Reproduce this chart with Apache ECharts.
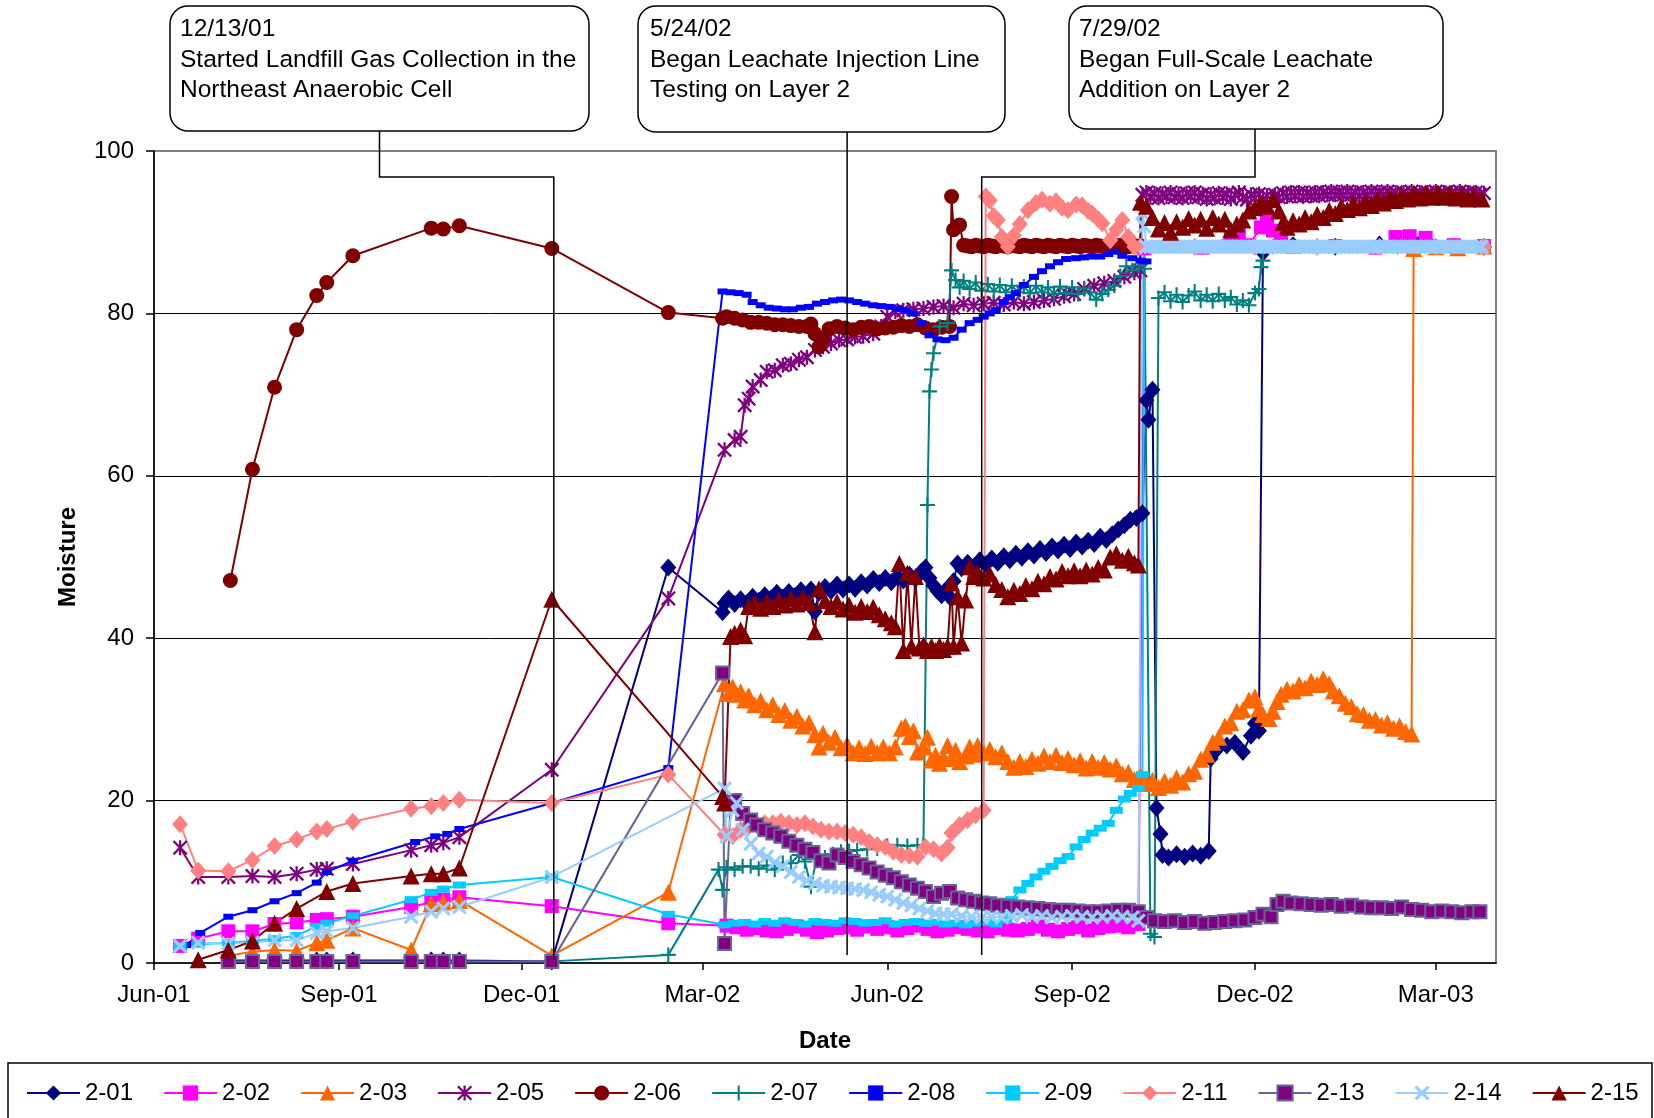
<!DOCTYPE html>
<html>
<head>
<meta charset="utf-8">
<title>Moisture 2-xx</title>
<script src="https://cdn.jsdelivr.net/npm/echarts@6/dist/echarts.min.js"></script>
<style>
  html, body { margin: 0; padding: 0; background: #fff; }
  #main { width: 1654px; height: 1118px; }
</style>
</head>
<body>
<div id="main"></div>
<script>
// 字体
const FONT = '"Liberation Sans", Arial, sans-serif'

// x轴刻度
const xTickDates = ['2001-06-01', '2001-09-01', '2001-12-01', '2002-03-01', '2002-06-01', '2002-09-01', '2002-12-01', '2003-03-01']
const xTickLabels = ['Jun-01', 'Sep-01', 'Dec-01', 'Mar-02', 'Jun-02', 'Sep-02', 'Dec-02', 'Mar-03']

// 注释框
const noteTexts = [
  '12/13/01\nStarted Landfill Gas Collection in the\nNortheast Anaerobic Cell',
  '5/24/02\nBegan Leachate Injection Line\nTesting on Layer 2',
  '7/29/02\nBegan Full-Scale Leachate\nAddition on Layer 2'
]
// 竖线所在日期 (按图上位置读出)
const noteDates = ['2001-12-17', '2002-05-12', '2002-07-18']

const seriesNames = ['2-01', '2-02', '2-03', '2-05', '2-06', '2-07', '2-08', '2-09', '2-11', '2-13', '2-14', '2-15']

const s201 = [
  ['2001-07-08',0.3],['2001-07-20',0.3],['2001-07-31',0.3],['2001-08-11',0.3],['2001-08-21',0.3],['2001-08-26',0.3],['2001-09-08',0.3],['2001-10-07',0.3],['2001-10-17',0.3],['2001-10-23',0.3],['2001-10-31',0.3],['2001-12-16',0.2],
  ['2002-02-12',48.7],['2002-03-11',43.2],['2002-03-12',44.3],['2002-03-14',44.9],['2002-03-17',44.2],['2002-03-20',44.8],['2002-03-23',44.3],['2002-03-26',45.1],['2002-03-29',44.6],['2002-04-01',45.3],['2002-04-04',44.9],['2002-04-07',45.6],['2002-04-10',45.0],['2002-04-13',45.7],
  ['2002-04-16',45.2],['2002-04-19',45.9],['2002-04-22',45.4],['2002-04-24',46.0],['2002-04-26',43.3],['2002-04-28',45.6],['2002-05-01',46.3],['2002-05-04',45.8],['2002-05-07',46.6],['2002-05-10',46.0],['2002-05-13',46.6],['2002-05-16',46.1],['2002-05-19',46.9],['2002-05-22',46.5],
  ['2002-05-25',47.3],['2002-05-28',46.8],['2002-05-31',47.4],['2002-06-03',46.9],['2002-06-06',47.6],['2002-06-09',47.1],['2002-06-12',47.8],['2002-06-15',47.3],['2002-06-18',48.2],['2002-06-20',48.7],['2002-06-22',47.4],['2002-06-24',46.5],['2002-06-26',45.8],['2002-06-28',45.3],
  ['2002-06-30',45.9],['2002-07-02',45.1],['2002-07-04',47.0],['2002-07-06',49.2],['2002-07-08',48.6],['2002-07-11',49.3],['2002-07-14',48.8],['2002-07-17',49.6],['2002-07-20',49.1],['2002-07-23',49.8],['2002-07-26',49.3],['2002-07-29',50.1],['2002-08-01',49.6],['2002-08-04',50.4],
  ['2002-08-07',49.9],['2002-08-10',50.7],['2002-08-13',50.2],['2002-08-16',51.0],['2002-08-19',50.5],['2002-08-22',51.3],['2002-08-25',50.8],['2002-08-28',51.5],['2002-08-31',51.0],['2002-09-03',51.8],['2002-09-06',51.3],['2002-09-09',52.0],['2002-09-12',51.6],['2002-09-15',52.5],
  ['2002-09-18',52.1],['2002-09-21',52.8],['2002-09-24',53.4],['2002-09-27',53.9],['2002-09-30',54.6],['2002-10-03',54.8],['2002-10-06',55.4],
  ['2002-10-08',69.3],['2002-10-09',66.9],['2002-10-11',70.6],['2002-10-13',19.1],['2002-10-15',15.9],['2002-10-16',13.3],['2002-10-19',13.0],['2002-10-23',13.4],['2002-10-27',13.1],['2002-10-31',13.5],['2002-11-04',13.2],['2002-11-08',13.8],
  ['2002-11-09',25.2],['2002-11-12',26.3],['2002-11-17',26.8],['2002-11-21',27.1],['2002-11-25',26.0],['2002-11-29',28.0],['2002-12-01',29.5],['2002-12-03',28.6],['2002-12-05',87.5],['2002-12-20',88.4],['2003-01-10',88.2],['2003-02-01',88.5],['2003-02-20',88.3],['2003-03-10',88.2],['2003-03-25',88.2]
]

const s202 = [
  ['2001-06-14',2.1],['2001-06-23',3.0],['2001-07-08',3.9],['2001-07-20',3.9],['2001-07-31',4.8],['2001-08-11',5.0],['2001-08-21',5.3],['2001-08-26',5.4],['2001-09-08',5.7],['2001-10-07',6.9],['2001-10-17',7.5],['2001-10-23',7.8],['2001-10-31',8.1],['2001-12-16',7.0],['2002-02-12',4.9],
  ['2002-03-13',4.6],['2002-03-18',4.4],['2002-03-23',4.1],['2002-03-28',4.3],['2002-04-02',4.0],['2002-04-07',3.9],['2002-04-12',4.2],['2002-04-17',4.5],['2002-04-22',4.1],['2002-04-27',3.8],['2002-05-02',4.0],['2002-05-07',4.3],['2002-05-12',4.4],['2002-05-17',4.1],
  ['2002-05-22',4.5],['2002-05-27',4.2],['2002-06-01',4.4],['2002-06-06',4.0],['2002-06-11',4.3],['2002-06-16',4.6],['2002-06-21',4.2],['2002-06-26',3.9],['2002-07-01',4.1],['2002-07-06',4.4],['2002-07-11',4.2],['2002-07-16',4.0],['2002-07-21',3.9],['2002-07-26',4.3],
  ['2002-07-31',4.1],['2002-08-05',4.0],['2002-08-10',4.2],['2002-08-15',4.5],['2002-08-20',4.1],['2002-08-25',3.9],['2002-08-30',4.2],['2002-09-04',4.4],['2002-09-09',4.0],['2002-09-14',4.3],['2002-09-19',4.5],['2002-09-24',4.6],['2002-09-29',4.4],['2002-10-04',4.8],
  ['2002-10-07',88.0],['2002-10-20',88.3],['2002-11-05',88.1],['2002-11-19',89.4],['2002-11-23',89.8],['2002-11-28',88.4],['2002-12-04',90.6],['2002-12-07',91.9],['2002-12-10',90.2],['2002-12-14',89.4],['2002-12-20',88.2],['2003-01-10',88.3],['2003-01-30',88.1],['2003-02-09',89.4],['2003-02-16',89.5],['2003-02-24',89.3],['2003-03-10',88.4],['2003-03-25',88.3]
]

const s203 = [
  ['2001-07-08',0.9],['2001-07-20',1.4],['2001-07-31',1.6],['2001-08-11',1.5],['2001-08-21',2.5],['2001-08-26',2.8],['2001-09-08',4.3],['2001-10-07',1.6],['2001-10-17',7.3],['2001-10-23',7.5],['2001-10-31',7.7],['2001-12-16',0.9],['2002-02-12',8.7],
  ['2002-03-12',34.4],['2002-03-14',33.2],['2002-03-16',34.0],['2002-03-18',33.1],['2002-03-20',33.4],['2002-03-22',32.4],['2002-03-24',32.9],['2002-03-27',31.8],['2002-03-30',32.3],['2002-04-02',31.2],['2002-04-05',31.8],['2002-04-08',30.6],['2002-04-11',31.1],['2002-04-14',29.9],
  ['2002-04-17',30.4],['2002-04-20',29.2],['2002-04-23',29.6],['2002-04-26',28.1],['2002-04-28',26.6],['2002-04-30',28.3],['2002-05-03',27.2],['2002-05-06',27.8],['2002-05-09',26.5],['2002-05-12',26.9],['2002-05-15',25.9],['2002-05-18',26.5],['2002-05-21',25.8],['2002-05-24',26.7],
  ['2002-05-27',25.9],['2002-05-30',26.6],['2002-06-02',25.9],['2002-06-05',26.6],['2002-06-08',28.9],['2002-06-10',29.2],['2002-06-12',27.9],['2002-06-14',28.6],['2002-06-16',26.0],['2002-06-19',26.6],['2002-06-21',27.8],['2002-06-23',25.0],['2002-06-25',25.6],['2002-06-27',24.6],
  ['2002-06-29',25.3],['2002-07-01',26.8],['2002-07-03',25.2],['2002-07-05',26.2],['2002-07-07',24.8],['2002-07-10',25.5],['2002-07-12',26.6],['2002-07-14',25.7],['2002-07-16',26.8],['2002-07-19',25.9],['2002-07-22',26.3],['2002-07-25',25.4],['2002-07-28',25.9],['2002-07-31',24.8],
  ['2002-08-03',24.1],['2002-08-06',24.8],['2002-08-09',24.2],['2002-08-12',25.1],['2002-08-15',24.6],['2002-08-18',25.5],['2002-08-21',24.8],['2002-08-24',25.6],['2002-08-27',24.7],['2002-08-30',25.2],['2002-09-02',24.4],['2002-09-05',24.9],['2002-09-08',24.0],['2002-09-11',24.8],
  ['2002-09-14',24.1],['2002-09-17',24.7],['2002-09-20',23.9],['2002-09-23',24.3],['2002-09-26',23.3],['2002-09-29',23.5],['2002-10-02',22.6],['2002-10-05',23.0],['2002-10-08',22.1],['2002-10-11',22.5],['2002-10-14',21.6],['2002-10-17',22.4],['2002-10-20',21.9],['2002-10-23',22.8],
  ['2002-10-26',22.3],['2002-10-29',23.3],['2002-11-01',23.6],['2002-11-04',25.1],['2002-11-07',25.7],['2002-11-10',27.2],['2002-11-13',27.8],['2002-11-16',29.2],['2002-11-19',29.6],['2002-11-22',31.0],['2002-11-25',31.2],['2002-11-28',32.4],['2002-12-01',32.8],['2002-12-03',31.3],
  ['2002-12-05',30.6],['2002-12-08',30.1],['2002-12-10',31.0],['2002-12-12',32.2],['2002-12-14',33.1],['2002-12-17',33.7],['2002-12-20',33.5],['2002-12-23',34.3],['2002-12-26',33.9],['2002-12-29',34.7],['2003-01-01',34.3],['2003-01-04',35.0],['2003-01-07',34.4],['2003-01-09',33.5],
  ['2003-01-12',32.9],['2003-01-15',32.0],['2003-01-18',31.6],['2003-01-21',30.7],['2003-01-24',30.6],['2003-01-27',29.9],['2003-01-30',30.0],['2003-02-02',29.3],['2003-02-05',29.6],['2003-02-08',28.9],['2003-02-11',29.2],['2003-02-14',28.5],['2003-02-17',28.2],
  ['2003-02-18',88.0],['2003-03-01',88.2],['2003-03-12',88.1],['2003-03-25',88.3]
]

const s205 = [
  ['2001-06-14',14.2],['2001-06-23',10.6],['2001-07-08',10.6],['2001-07-20',10.7],['2001-07-31',10.6],['2001-08-11',11.0],['2001-08-21',11.5],['2001-08-26',11.6],['2001-09-08',12.2],['2001-10-07',13.9],['2001-10-17',14.5],['2001-10-23',14.8],['2001-10-31',15.5],['2001-12-16',23.8],['2002-02-12',44.9],
  ['2002-03-12',63.2],['2002-03-17',64.4],['2002-03-20',64.8],['2002-03-22',68.7],['2002-03-24',69.5],['2002-03-26',71.0],['2002-03-30',71.8],['2002-04-02',72.8],['2002-04-06',73.0],['2002-04-10',73.6],['2002-04-14',73.8],['2002-04-18',74.3],['2002-04-22',74.6],['2002-04-26',75.5],
  ['2002-04-30',75.9],['2002-05-04',76.3],['2002-05-08',76.7],['2002-05-12',76.8],['2002-05-16',77.1],['2002-05-20',77.2],['2002-05-25',77.5],['2002-05-29',78.4],['2002-06-01',79.6],['2002-06-05',80.2],['2002-06-09',80.4],['2002-06-14',80.5],['2002-06-19',80.6],['2002-06-24',80.8],
  ['2002-06-29',80.9],['2002-07-04',80.7],['2002-07-09',81.2],['2002-07-14',81.0],['2002-07-19',81.2],['2002-07-24',81.3],['2002-07-29',81.1],['2002-08-03',81.4],['2002-08-08',81.2],['2002-08-13',81.4],['2002-08-18',81.6],['2002-08-23',81.8],['2002-08-28',82.1],['2002-09-02',82.4],
  ['2002-09-07',83.0],['2002-09-12',83.4],['2002-09-17',83.7],['2002-09-22',84.0],['2002-09-27',84.5],['2002-10-02',85.0],['2002-10-05',85.3],
  ['2002-10-06',94.6],['2002-10-08',94.9],['2002-10-10',94.3],['2002-10-12',94.8],['2002-10-14',94.2],['2002-10-16',94.7],['2002-10-18',94.4],['2002-10-20',94.9],['2002-10-22',94.3],['2002-10-24',94.7],['2002-10-26',94.2],['2002-10-28',94.8],['2002-10-30',94.4],
  ['2002-11-01',94.9],['2002-11-03',94.3],['2002-11-05',94.7],['2002-11-07',94.1],['2002-11-09',94.6],['2002-11-11',94.2],['2002-11-13',94.8],['2002-11-15',94.3],['2002-11-17',94.7],['2002-11-19',94.1],['2002-11-21',94.6],['2002-11-23',94.9],['2002-11-25',94.3],['2002-11-27',94.0],['2002-11-29',94.6],
  ['2002-12-01',94.2],['2002-12-03',94.7],['2002-12-05',94.1],['2002-12-07',94.5],['2002-12-09',94.0],['2002-12-11',94.6],['2002-12-13',94.3],['2002-12-15',94.8],['2002-12-17',94.4],['2002-12-19',94.9],['2002-12-21',94.5],['2002-12-23',94.9],['2002-12-25',94.4],['2002-12-27',94.8],['2002-12-29',94.5],['2002-12-31',94.9],
  ['2003-01-02',94.5],['2003-01-04',94.9],['2003-01-06',94.6],['2003-01-08',95.0],['2003-01-10',94.6],['2003-01-12',94.9],['2003-01-14',94.6],['2003-01-16',95.0],['2003-01-18',94.6],['2003-01-20',94.9],['2003-01-22',94.5],['2003-01-24',94.9],['2003-01-26',94.6],['2003-01-28',95.0],['2003-01-30',94.6],
  ['2003-02-01',94.9],['2003-02-03',94.6],['2003-02-05',95.0],['2003-02-07',94.6],['2003-02-09',94.9],['2003-02-11',94.5],['2003-02-13',94.9],['2003-02-15',94.6],['2003-02-17',95.0],['2003-02-19',94.6],['2003-02-21',94.9],['2003-02-23',94.5],['2003-02-25',94.9],['2003-02-27',94.6],
  ['2003-03-01',95.0],['2003-03-03',94.6],['2003-03-05',94.9],['2003-03-07',94.5],['2003-03-09',94.9],['2003-03-11',94.6],['2003-03-13',95.0],['2003-03-15',94.6],['2003-03-17',94.9],['2003-03-19',94.5],['2003-03-21',94.9],['2003-03-23',94.6],['2003-03-25',94.8]
]

const s206 = [
  ['2001-07-09',47.1],['2001-07-20',60.8],['2001-07-31',70.9],['2001-08-11',78.0],['2001-08-21',82.2],['2001-08-26',83.8],['2001-09-08',87.1],['2001-10-17',90.5],['2001-10-23',90.4],['2001-10-31',90.8],['2001-12-16',88.0],['2002-02-12',80.1],
  ['2002-03-11',79.4],['2002-03-13',79.6],['2002-03-17',79.4],['2002-03-21',79.2],['2002-03-25',78.9],['2002-03-29',78.9],['2002-04-02',78.8],['2002-04-06',78.6],['2002-04-10',78.6],['2002-04-14',78.5],['2002-04-18',78.4],['2002-04-22',78.4],['2002-04-24',78.7],['2002-04-26',77.5],
  ['2002-04-28',75.9],['2002-04-30',76.8],['2002-05-03',78.1],['2002-05-07',78.4],['2002-05-11',78.2],['2002-05-15',78.0],['2002-05-19',78.3],['2002-05-23',78.4],['2002-05-27',78.1],['2002-05-31',78.2],['2002-06-04',78.3],['2002-06-08',78.5],['2002-06-12',78.4],['2002-06-16',78.6],
  ['2002-06-20',78.2],['2002-06-24',78.0],['2002-06-28',78.3],['2002-07-02',78.4],['2002-07-03',94.4],['2002-07-04',90.3],['2002-07-07',90.9],
  ['2002-07-09',88.4],['2002-07-11',88.3],['2002-07-13',88.2],['2002-07-15',88.4],['2002-07-17',88.3],['2002-07-19',88.2],['2002-07-21',88.4],['2002-07-23',88.3],['2002-07-25',88.2],['2002-07-27',88.4],['2002-07-29',88.3],['2002-07-31',88.2],
  ['2002-08-02',88.4],['2002-08-04',88.3],['2002-08-06',88.2],['2002-08-08',88.4],['2002-08-10',88.3],['2002-08-12',88.2],['2002-08-14',88.4],['2002-08-16',88.3],['2002-08-18',88.2],['2002-08-20',88.4],['2002-08-22',88.3],['2002-08-24',88.2],['2002-08-26',88.4],['2002-08-28',88.3],['2002-08-30',88.2],
  ['2002-09-01',88.4],['2002-09-03',88.3],['2002-09-05',88.2],['2002-09-07',88.4],['2002-09-09',88.3],['2002-09-11',88.2],['2002-09-13',88.4],['2002-09-15',88.3],['2002-09-17',88.2],['2002-09-19',88.4],['2002-09-21',88.3],['2002-09-23',88.2],['2002-09-25',88.4],['2002-09-27',88.3],['2002-09-29',88.2],
  ['2002-10-01',88.4],['2002-10-03',88.3],['2002-10-05',88.3]
]

const s207 = [
  ['2001-12-16',0.2],['2002-02-12',1.0],['2002-03-09',11.5],['2002-03-11',9.0],['2002-03-13',11.8],['2002-03-17',11.5],['2002-03-21',11.9],['2002-03-25',11.9],['2002-03-29',11.6],['2002-04-02',12.0],['2002-04-06',11.5],['2002-04-10',12.3],['2002-04-14',12.3],['2002-04-18',13.3],
  ['2002-04-21',12.5],['2002-04-24',9.4],['2002-04-27',13.1],['2002-05-01',13.0],['2002-05-05',13.4],['2002-05-09',13.7],['2002-05-13',13.8],['2002-05-17',13.9],['2002-05-22',14.0],['2002-05-27',14.1],['2002-06-01',14.4],['2002-06-06',14.5],['2002-06-11',14.4],['2002-06-16',14.5],
  ['2002-06-19',14.5],['2002-06-21',56.4],['2002-06-22',70.4],['2002-06-23',73.1],['2002-06-24',75.1],['2002-06-27',78.4],['2002-07-01',78.8],
  ['2002-07-03',85.3],['2002-07-05',84.1],['2002-07-07',83.2],['2002-07-09',84.0],['2002-07-12',83.0],['2002-07-15',83.8],['2002-07-18',82.8],['2002-07-21',83.6],['2002-07-24',82.7],['2002-07-27',83.5],['2002-07-30',82.6],['2002-08-02',83.4],['2002-08-05',82.6],['2002-08-08',83.3],
  ['2002-08-11',82.5],['2002-08-14',83.4],['2002-08-17',82.6],['2002-08-20',83.2],['2002-08-23',82.4],['2002-08-26',83.3],['2002-08-29',82.5],['2002-09-01',83.2],['2002-09-04',82.4],['2002-09-07',83.1],['2002-09-10',82.6],['2002-09-13',81.7],['2002-09-16',82.4],['2002-09-19',82.9],
  ['2002-09-22',83.4],['2002-09-25',84.6],['2002-09-28',85.8],['2002-10-01',85.3],['2002-10-04',85.9],['2002-10-07',85.5],['2002-10-10',3.6],['2002-10-12',3.2],
  ['2002-10-14',81.9],['2002-10-17',82.6],['2002-10-20',81.5],['2002-10-23',82.3],['2002-10-26',81.4],['2002-10-29',82.2],['2002-11-01',82.7],['2002-11-04',81.6],['2002-11-07',82.3],['2002-11-10',81.5],['2002-11-13',82.4],['2002-11-16',81.6],['2002-11-19',82.0],['2002-11-22',81.1],
  ['2002-11-25',81.6],['2002-11-28',81.0],['2002-12-01',82.5],['2002-12-03',83.0],['2002-12-04',85.7],['2002-12-05',86.5],['2002-12-10',88.2],['2003-01-10',88.2],['2003-02-10',88.2],['2003-03-25',88.2]
]

const s208 = [
  ['2001-06-17',2.2],['2001-06-24',3.7],['2001-07-08',5.7],['2001-07-20',6.5],['2001-07-31',7.6],['2001-08-11',8.6],['2001-08-21',9.9],['2001-08-26',11.2],['2001-09-08',12.6],['2001-10-09',14.9],['2001-10-19',15.6],['2001-10-25',15.9],['2001-10-31',16.5],['2001-12-16',19.7],['2002-02-12',24.0],
  ['2002-03-11',82.7],['2002-03-15',82.6],['2002-03-19',82.5],['2002-03-23',82.3],['2002-03-26',81.4],['2002-03-30',81.0],['2002-04-03',80.7],['2002-04-07',80.6],['2002-04-11',80.5],['2002-04-15',80.5],['2002-04-19',80.7],['2002-04-23',80.8],['2002-04-27',81.2],['2002-05-01',81.4],
  ['2002-05-05',81.6],['2002-05-09',81.7],['2002-05-13',81.6],['2002-05-17',81.4],['2002-05-21',81.2],['2002-05-25',81.0],['2002-05-29',80.9],['2002-06-02',80.8],['2002-06-06',80.6],['2002-06-10',80.4],['2002-06-14',80.0],['2002-06-18',78.8],['2002-06-22',77.3],['2002-06-26',76.8],
  ['2002-06-30',76.7],['2002-07-04',77.0],['2002-07-08',78.0],['2002-07-12',78.8],['2002-07-16',79.2],['2002-07-19',79.6],['2002-07-22',80.0],['2002-07-25',80.4],['2002-07-29',81.4],['2002-08-01',82.0],['2002-08-04',82.5],['2002-08-08',83.5],['2002-08-13',84.5],['2002-08-17',85.2],
  ['2002-08-21',85.8],['2002-08-25',86.3],['2002-08-29',86.7],['2002-09-03',86.8],['2002-09-07',86.9],['2002-09-11',87.0],['2002-09-15',87.0],['2002-09-19',87.3],['2002-09-22',87.6],['2002-09-26',87.1],['2002-10-01',86.8],['2002-10-05',86.5],['2002-10-08',86.4]
]

const s209 = [
  ['2001-06-14',2.1],['2001-06-23',2.3],['2001-07-08',2.5],['2001-07-20',2.7],['2001-07-31',3.0],['2001-08-11',3.4],['2001-08-21',4.5],['2001-08-26',4.9],['2001-09-08',5.8],['2001-10-07',7.8],['2001-10-17',8.7],['2001-10-23',9.1],['2001-10-31',9.6],['2001-12-16',10.6],['2002-02-12',6.0],
  ['2002-03-12',4.7],['2002-03-17',4.9],['2002-03-22',5.0],['2002-03-27',4.8],['2002-04-01',5.1],['2002-04-06',4.9],['2002-04-11',5.2],['2002-04-16',5.0],['2002-04-21',4.8],['2002-04-26',5.1],['2002-05-01',5.0],['2002-05-06',4.9],['2002-05-11',5.2],['2002-05-16',5.1],
  ['2002-05-21',4.9],['2002-05-26',5.0],['2002-05-31',5.2],['2002-06-05',4.8],['2002-06-10',5.0],['2002-06-15',5.1],['2002-06-20',4.9],['2002-06-25',5.0],['2002-06-30',4.8],['2002-07-05',4.9],['2002-07-10',4.7],['2002-07-15',4.9],['2002-07-20',5.0],['2002-07-25',4.8],['2002-07-30',5.3],
  ['2002-08-02',7.8],['2002-08-06',9.0],['2002-08-10',9.8],['2002-08-14',10.6],['2002-08-18',11.3],['2002-08-22',11.9],['2002-08-26',12.6],['2002-08-30',13.1],['2002-09-03',14.3],['2002-09-07',15.2],['2002-09-11',16.0],['2002-09-15',16.6],['2002-09-19',17.2],['2002-09-23',18.8],
  ['2002-09-27',20.2],['2002-09-30',20.9],['2002-10-04',21.5],['2002-10-06',23.2],['2002-10-07',88.0],['2002-11-01',88.2],['2002-12-01',88.2],['2003-01-01',88.2],['2003-02-01',88.2],['2003-03-01',88.2],['2003-03-25',88.2]
]

const s211 = [
  ['2001-06-14',17.1],['2001-06-23',11.4],['2001-07-08',11.3],['2001-07-20',12.7],['2001-07-31',14.4],['2001-08-11',15.2],['2001-08-21',16.2],['2001-08-26',16.5],['2001-09-08',17.4],['2001-10-07',19.0],['2001-10-17',19.3],['2001-10-23',19.7],['2001-10-31',20.1],['2001-12-16',19.7],['2002-02-12',23.2],
  ['2002-03-12',15.8],['2002-03-16',15.6],['2002-03-20',16.4],['2002-03-24',16.8],['2002-03-28',17.0],['2002-04-01',17.2],['2002-04-05',17.2],['2002-04-09',17.4],['2002-04-13',17.2],['2002-04-17',17.0],['2002-04-21',17.2],['2002-04-25',16.8],['2002-04-29',16.4],['2002-05-03',16.2],
  ['2002-05-07',16.2],['2002-05-11',16.0],['2002-05-15',15.8],['2002-05-19',15.5],['2002-05-23',14.9],['2002-05-27',14.5],['2002-05-31',14.3],['2002-06-04',13.7],['2002-06-08',13.3],['2002-06-12',13.2],['2002-06-16',13.1],['2002-06-20',14.3],['2002-06-24',14.0],['2002-06-28',13.5],
  ['2002-07-01',14.2],['2002-07-03',16.0],['2002-07-07',17.0],['2002-07-11',17.6],['2002-07-15',18.2],['2002-07-19',18.8],
  ['2002-07-20',94.4],['2002-07-22',93.9],['2002-07-24',92.0],['2002-07-26',91.5],['2002-07-28',89.4],['2002-07-31',88.2],['2002-08-03',89.6],['2002-08-06',91.0],['2002-08-10',92.7],['2002-08-14',93.6],['2002-08-17',94.0],['2002-08-21',93.5],['2002-08-24',93.8],['2002-08-27',93.0],
  ['2002-08-30',92.7],['2002-09-03',93.4],['2002-09-06',93.3],['2002-09-09',92.6],['2002-09-11',92.3],['2002-09-14',91.6],['2002-09-16',91.1],['2002-09-20',89.0],['2002-09-23',90.3],['2002-09-26',91.5],['2002-09-29',89.4],['2002-10-02',88.2],['2002-10-05',88.2],
  ['2002-11-01',88.2],['2002-12-01',88.2],['2003-01-01',88.2],['2003-02-01',88.2],['2003-03-01',88.2],['2003-03-25',88.2]
]

const s213 = [
  ['2001-07-08',0.2],['2001-07-20',0.2],['2001-07-31',0.2],['2001-08-11',0.2],['2001-08-21',0.2],['2001-08-26',0.2],['2001-09-08',0.2],['2001-10-07',0.2],['2001-10-17',0.2],['2001-10-23',0.2],['2001-10-31',0.2],['2001-12-16',0.2],
  ['2002-03-11',35.7],['2002-03-12',2.4],['2002-03-15',19.9],['2002-03-17',20.0],['2002-03-21',18.4],['2002-03-25',17.6],['2002-03-28',17.0],['2002-04-01',16.4],['2002-04-05',16.0],['2002-04-09',15.6],['2002-04-13',15.0],['2002-04-17',14.5],['2002-04-21',14.0],['2002-04-25',13.6],
  ['2002-04-29',12.6],['2002-05-03',12.3],['2002-05-07',13.3],['2002-05-11',13.0],['2002-05-15',12.5],['2002-05-19',12.1],['2002-05-23',11.7],['2002-05-27',11.2],['2002-05-31',10.8],['2002-06-04',10.5],['2002-06-08',10.0],['2002-06-12',9.6],['2002-06-16',9.2],['2002-06-20',8.8],
  ['2002-06-24',8.2],['2002-06-28',8.6],['2002-07-02',8.8],['2002-07-06',8.0],['2002-07-10',7.8],['2002-07-14',7.6],['2002-07-18',7.4],['2002-07-22',7.3],['2002-07-26',7.1],['2002-07-31',7.0],['2002-08-05',6.9],['2002-08-10',6.8],['2002-08-15',6.7],['2002-08-20',6.6],
  ['2002-08-25',6.5],['2002-08-30',6.5],['2002-09-04',6.4],['2002-09-09',6.3],['2002-09-14',6.3],['2002-09-19',6.4],['2002-09-24',6.5],['2002-09-29',6.5],['2002-10-04',6.3],['2002-10-08',5.6],['2002-10-12',5.2],['2002-10-17',5.1],['2002-10-22',5.2],['2002-10-27',5.0],
  ['2002-11-01',5.1],['2002-11-06',4.9],['2002-11-11',5.0],['2002-11-16',5.1],['2002-11-21',5.2],['2002-11-26',5.3],['2002-12-01',5.6],['2002-12-05',6.0],['2002-12-09',5.7],['2002-12-12',7.2],['2002-12-15',7.6],['2002-12-19',7.4],['2002-12-24',7.3],['2002-12-29',7.2],
  ['2003-01-03',7.1],['2003-01-08',7.2],['2003-01-13',7.0],['2003-01-18',7.1],['2003-01-23',6.9],['2003-01-28',6.8],['2003-02-02',6.8],['2003-02-07',6.7],['2003-02-12',6.9],['2003-02-17',6.6],['2003-02-22',6.5],['2003-02-27',6.3],['2003-03-04',6.4],['2003-03-09',6.3],
  ['2003-03-14',6.2],['2003-03-19',6.3],['2003-03-23',6.3]
]

const s214 = [
  ['2001-06-14',2.1],['2001-06-23',2.5],['2001-07-08',2.4],['2001-07-20',2.5],['2001-07-31',2.8],['2001-08-11',2.8],['2001-08-21',3.7],['2001-08-26',3.9],['2001-09-08',4.3],['2001-10-07',5.7],['2001-10-17',6.3],['2001-10-23',6.7],['2001-10-31',6.9],['2001-12-16',10.6],
  ['2002-03-12',21.5],['2002-03-13',15.6],['2002-03-16',18.8],['2002-03-18',19.7],['2002-03-21',16.4],['2002-03-25',14.7],['2002-03-29',13.5],['2002-04-02',13.1],['2002-04-06',12.4],['2002-04-10',11.9],['2002-04-14',11.2],['2002-04-18',10.6],['2002-04-22',10.1],['2002-04-26',9.8],
  ['2002-04-30',9.5],['2002-05-04',9.4],['2002-05-08',9.3],['2002-05-12',9.2],['2002-05-16',9.1],['2002-05-20',9.0],['2002-05-24',8.7],['2002-05-28',8.4],['2002-06-01',8.2],['2002-06-05',7.8],['2002-06-09',7.4],['2002-06-13',7.1],['2002-06-17',6.7],['2002-06-21',6.4],
  ['2002-06-25',6.1],['2002-06-29',6.0],['2002-07-03',6.0],['2002-07-08',5.8],['2002-07-13',5.7],['2002-07-18',5.6],['2002-07-23',5.7],['2002-07-28',5.6],['2002-08-02',5.8],['2002-08-07',5.9],['2002-08-12',5.7],['2002-08-17',5.8],['2002-08-22',5.6],['2002-08-27',5.7],
  ['2002-09-01',5.8],['2002-09-06',5.7],['2002-09-11',5.6],['2002-09-16',5.7],['2002-09-21',5.8],['2002-09-26',5.7],['2002-10-01',5.6],['2002-10-04',5.2],['2002-10-06',92.3],['2002-10-07',90.7],
  ['2002-10-08',88.2],['2002-10-10',88.2],['2002-10-12',88.2],['2002-10-14',88.2],['2002-10-16',88.2],['2002-10-18',88.2],['2002-10-20',88.2],['2002-10-22',88.2],['2002-10-24',88.2],['2002-10-26',88.2],['2002-10-28',88.2],['2002-10-30',88.2],
  ['2002-11-01',88.2],['2002-11-03',88.2],['2002-11-05',88.2],['2002-11-07',88.2],['2002-11-09',88.2],['2002-11-11',88.2],['2002-11-13',88.2],['2002-11-15',88.2],['2002-11-17',88.2],['2002-11-19',88.2],['2002-11-21',88.2],['2002-11-23',88.2],['2002-11-25',88.2],['2002-11-27',88.2],['2002-11-29',88.2],
  ['2002-12-01',88.2],['2002-12-03',88.2],['2002-12-05',88.2],['2002-12-07',88.2],['2002-12-09',88.2],['2002-12-11',88.2],['2002-12-13',88.2],['2002-12-15',88.2],['2002-12-17',88.2],['2002-12-19',88.2],['2002-12-21',88.2],['2002-12-23',88.2],['2002-12-25',88.2],['2002-12-27',88.2],['2002-12-29',88.2],['2002-12-31',88.2],
  ['2003-01-02',88.2],['2003-01-04',88.2],['2003-01-06',88.2],['2003-01-08',88.2],['2003-01-10',88.2],['2003-01-12',88.2],['2003-01-14',88.2],['2003-01-16',88.2],['2003-01-18',88.2],['2003-01-20',88.2],['2003-01-22',88.2],['2003-01-24',88.2],['2003-01-26',88.2],['2003-01-28',88.2],['2003-01-30',88.2],
  ['2003-02-01',88.2],['2003-02-03',88.2],['2003-02-05',88.2],['2003-02-07',88.2],['2003-02-09',88.2],['2003-02-11',88.2],['2003-02-13',88.2],['2003-02-15',88.2],['2003-02-17',88.2],['2003-02-19',88.2],['2003-02-21',88.2],['2003-02-23',88.2],['2003-02-25',88.2],['2003-02-27',88.2],
  ['2003-03-01',88.2],['2003-03-03',88.2],['2003-03-05',88.2],['2003-03-07',88.2],['2003-03-09',88.2],['2003-03-11',88.2],['2003-03-13',88.2],['2003-03-15',88.2],['2003-03-17',88.2],['2003-03-19',88.2],['2003-03-21',88.2],['2003-03-23',88.2],['2003-03-24',88.2]
]

const s215 = [
  ['2001-06-23',0.4],['2001-07-08',1.6],['2001-07-20',2.7],['2001-07-31',4.9],['2001-08-11',6.7],['2001-08-26',8.8],['2001-09-08',9.8],['2001-10-07',10.7],['2001-10-17',11.0],['2001-10-23',11.0],['2001-10-31',11.7],['2001-12-16',44.8],
  ['2002-03-11',20.5],['2002-03-12',19.7],['2002-03-15',40.2],['2002-03-17',40.6],['2002-03-20',41.0],['2002-03-22',40.3],['2002-03-24',43.9],['2002-03-27',44.4],['2002-03-30',43.7],['2002-04-02',44.5],['2002-04-05',43.9],['2002-04-08',44.7],['2002-04-11',44.1],['2002-04-14',44.9],
  ['2002-04-17',44.2],['2002-04-20',45.0],['2002-04-23',44.4],['2002-04-26',40.8],['2002-04-28',46.1],['2002-05-01',44.6],['2002-05-04',43.9],['2002-05-07',44.5],['2002-05-10',43.6],['2002-05-13',44.1],['2002-05-16',43.2],['2002-05-19',43.9],['2002-05-22',43.3],['2002-05-25',43.8],
  ['2002-05-28',42.9],['2002-05-31',42.4],['2002-06-03',41.9],['2002-06-05',41.4],['2002-06-07',49.2],['2002-06-09',38.5],['2002-06-11',48.0],['2002-06-13',39.0],['2002-06-15',47.6],['2002-06-17',38.8],['2002-06-19',39.2],['2002-06-21',38.5],['2002-06-23',39.0],['2002-06-25',38.5],
  ['2002-06-27',39.1],['2002-06-29',38.6],['2002-07-01',39.0],['2002-07-03',46.8],['2002-07-04',39.0],['2002-07-06',45.1],['2002-07-08',39.4],['2002-07-10',44.7],['2002-07-12',48.8],['2002-07-14',47.6],['2002-07-16',48.1],['2002-07-19',47.4],['2002-07-22',47.9],['2002-07-25',46.6],
  ['2002-07-28',46.0],['2002-07-31',45.1],['2002-08-03',45.9],['2002-08-06',45.5],['2002-08-09',46.5],['2002-08-12',46.1],['2002-08-15',47.0],['2002-08-18',46.7],['2002-08-21',47.6],['2002-08-24',47.3],['2002-08-27',48.2],['2002-08-30',47.7],['2002-09-02',48.3],['2002-09-05',47.7],
  ['2002-09-08',48.4],['2002-09-11',47.9],['2002-09-14',48.7],['2002-09-17',48.4],['2002-09-20',50.0],['2002-09-23',50.4],['2002-09-26',49.6],['2002-09-29',50.1],['2002-10-02',49.3],['2002-10-04',49.0],
  ['2002-10-05',93.7],['2002-10-08',93.2],['2002-10-11',91.8],['2002-10-14',90.4],['2002-10-17',91.2],['2002-10-20',90.0],['2002-10-23',91.3],['2002-10-26',90.6],['2002-10-29',91.7],['2002-11-01',90.9],['2002-11-04',91.6],['2002-11-07',90.5],['2002-11-10',91.8],['2002-11-13',91.0],
  ['2002-11-16',91.6],['2002-11-19',90.3],['2002-11-22',91.0],['2002-11-25',91.5],['2002-11-28',92.6],['2002-12-01',93.0],['2002-12-04',93.6],['2002-12-07',93.2],['2002-12-10',94.0],['2002-12-13',92.6],['2002-12-15',91.2],['2002-12-17',90.6],['2002-12-20',91.4],['2002-12-23',91.0],
  ['2002-12-26',91.8],['2002-12-29',91.3],['2003-01-01',92.2],['2003-01-04',91.8],['2003-01-07',92.7],['2003-01-10',92.3],['2003-01-13',93.2],['2003-01-16',92.8],['2003-01-19',93.5],['2003-01-22',93.0],['2003-01-25',93.7],['2003-01-28',93.3],['2003-01-31',94.0],['2003-02-03',93.6],
  ['2003-02-06',94.3],['2003-02-09',93.9],['2003-02-12',94.5],['2003-02-15',94.1],['2003-02-18',94.7],['2003-02-21',94.2],['2003-02-24',94.8],['2003-02-27',94.3],['2003-03-02',94.8],['2003-03-05',94.3],['2003-03-08',94.7],['2003-03-11',94.2],['2003-03-14',94.6],['2003-03-17',94.1],
  ['2003-03-20',94.5],['2003-03-24',94.1]
]

// 'YYYY-MM-DD' -> 本地时间戳
function ts(s) {
  const p = s.split('-')
  return new Date(+p[0], +p[1] - 1, +p[2]).getTime()
}

// Excel 样式的标记
const STAR = 'path://M4.25,0H5.75V10H4.25Z M0,1.1L1.1,0L10,8.9L8.9,10Z M8.9,0L10,1.1L1.1,10L0,8.9Z'
const PLUS = 'path://M0,4.3H10V5.7H0Z M4.3,0H5.7V10H4.3Z'
const CROSS = 'path://M0,1.5L1.5,0L10,8.5L8.5,10Z M8.5,0L10,1.5L1.5,10L0,8.5Z'

// 每条线的样式
const styles = {
  '2-01': { data: s201, color: '#000080', symbol: 'diamond', size: [16, 18] },
  '2-02': { data: s202, color: '#FF00FF', symbol: 'rect', size: 14 },
  '2-03': { data: s203, color: '#FF6600', symbol: 'triangle', size: 17 },
  '2-05': { data: s205, color: '#800080', symbol: STAR, size: 15 },
  '2-06': { data: s206, color: '#800000', symbol: 'circle', size: 15 },
  '2-07': { data: s207, color: '#008080', symbol: PLUS, size: 15 },
  '2-08': { data: s208, color: '#0000FF', symbol: 'rect', size: [10, 6] },
  '2-09': { data: s209, color: '#00CCFF', symbol: 'rect', size: [13, 7] },
  '2-11': { data: s211, color: '#FF8080', symbol: 'diamond', size: [16, 18] },
  '2-13': { data: s213, color: '#666699', symbol: 'rect', size: 13, fill: '#800080' },
  '2-14': { data: s214, color: '#99CCFF', symbol: CROSS, size: 15 },
  '2-15': { data: s215, color: '#800000', symbol: 'triangle', size: 17 }
}

const chart = echarts.init(document.getElementById('main'))

const series = seriesNames.map(name => {
  const st = styles[name]
  const item = st.fill
    ? { color: st.fill, borderColor: st.color, borderWidth: 2 }
    : { color: st.color }
  return {
    name: name,
    type: 'line',
    data: st.data.map(p => [ts(p[0]), p[1]]),
    symbol: st.symbol,
    symbolSize: st.size,
    showAllSymbol: true,
    lineStyle: { color: st.color, width: 2 },
    itemStyle: item,
    emphasis: { disabled: true }
  }
})

const tickTs = xTickDates.map(ts)

const option = {
  animation: false,
  backgroundColor: '#fff',
  textStyle: { fontFamily: FONT },
  grid: { left: 154, right: 158, top: 151, bottom: 155, show: true, borderColor: '#808080', borderWidth: 2 },
  xAxis: {
    // 用数值轴放时间戳, 方便自定义刻度
    type: 'value',
    min: ts('2001-06-01'),
    max: ts('2003-03-31'),
    name: 'Date',
    nameLocation: 'middle',
    nameGap: 66,
    nameTextStyle: { fontSize: 24, fontWeight: 'bold', color: '#000', fontFamily: FONT },
    axisLine: { lineStyle: { color: '#000', width: 1.5 } },
    axisTick: { show: true, customValues: tickTs, length: 7, lineStyle: { color: '#000', width: 1.5 } },
    axisLabel: {
      customValues: tickTs,
      fontSize: 24,
      color: '#000',
      fontFamily: FONT,
      margin: 20,
      formatter: v => {
        const i = tickTs.findIndex(t => Math.abs(t - v) < 43200000)
        return i >= 0 ? xTickLabels[i] : ''
      }
    },
    splitLine: { show: false }
  },
  yAxis: {
    type: 'value',
    min: 0,
    max: 100,
    interval: 20,
    name: 'Moisture',
    nameLocation: 'middle',
    nameGap: 74,
    nameTextStyle: { fontSize: 24, fontWeight: 'bold', color: '#000', fontFamily: FONT },
    axisLine: { show: true, lineStyle: { color: '#000', width: 1.5 } },
    axisTick: { show: true, length: 8, lineStyle: { color: '#000', width: 1.5 } },
    axisLabel: { fontSize: 24, color: '#000', fontFamily: FONT, margin: 20 },
    splitLine: { show: true, showMinLine: false, showMaxLine: false, lineStyle: { color: '#000', width: 1 } }
  },
  legend: {
    data: seriesNames,
    left: 21,
    top: 1076,
    width: 1630,
    itemWidth: 53,
    itemHeight: 19,
    itemGap: 30,
    textStyle: { fontSize: 24, color: '#000', fontFamily: FONT },
    selectedMode: false
  },
  series: series
}

chart.setOption(option)

// 注释框和竖线 (竖线位置用坐标轴换算)
function drawNotes() {
  const px = noteDates.map(d => chart.convertToPixel({ xAxisIndex: 0 }, ts(d)))
  const boxes = [
    { x: 170, y: 6, w: 419, h: 125, tx: 180 },
    { x: 638, y: 6, w: 367, h: 126, tx: 650 },
    { x: 1069, y: 6, w: 374, h: 123, tx: 1079 }
  ]
  const els = []
  // 图例外框
  els.push({
    type: 'rect', id: 'legendBox', z: -10,
    shape: { x: 8, y: 1063, width: 1644, height: 70 },
    style: { fill: '#fff', stroke: '#000', lineWidth: 1.5 }
  })
  boxes.forEach((b, i) => {
    els.push({
      type: 'rect', id: 'box' + i, z: 50,
      shape: { x: b.x, y: b.y, width: b.w, height: b.h, r: 18 },
      style: { fill: '#fff', stroke: '#000', lineWidth: 1.5 }
    })
    els.push({
      type: 'text', id: 'txt' + i, z: 51,
      x: b.tx, y: 14,
      style: { text: noteTexts[i], fontSize: 24.5, fontFamily: FONT, fill: '#000', lineHeight: 30.6, verticalAlign: 'top' }
    })
  })
  const bottom = 955
  els.push({
    type: 'polyline', id: 'ln0', z: 60,
    shape: { points: [[379.5, 131], [379.5, 177], [px[0], 177], [px[0], 960]] },
    style: { stroke: '#000', lineWidth: 1.5, fill: null }
  })
  els.push({
    type: 'polyline', id: 'ln1', z: 60,
    shape: { points: [[px[1], 132], [px[1], bottom]] },
    style: { stroke: '#000', lineWidth: 1.5, fill: null }
  })
  els.push({
    type: 'polyline', id: 'ln2', z: 60,
    shape: { points: [[1255, 129], [1255, 177], [px[2], 177], [px[2], bottom]] },
    style: { stroke: '#000', lineWidth: 1.5, fill: null }
  })
  chart.setOption({ graphic: { elements: els } })
}
drawNotes()
</script>
</body>
</html>
